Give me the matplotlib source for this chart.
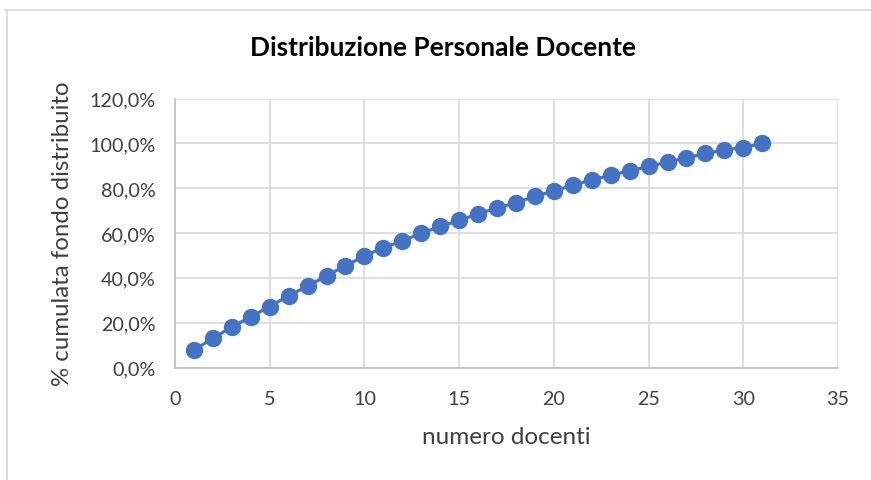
import matplotlib.pyplot as plt
from matplotlib.ticker import FuncFormatter
from matplotlib.lines import Line2D

# numero docenti (x) and cumulative % of fund distributed (y)
docenti = list(range(1, 32))
cumulata = [7.7, 13.1, 18.0, 22.6, 27.2, 32.0, 36.3, 40.9, 45.4, 49.7,
            53.5, 56.4, 59.9, 62.9, 65.6, 68.6, 71.1, 73.6, 76.3, 78.8,
            81.3, 83.7, 85.8, 87.7, 89.7, 91.6, 93.5, 95.5, 97.0, 98.1, 100.0]

TITLE = "Distribuzione Personale Docente"
XLABEL = "numero docenti"
YLABEL = "% cumulata fondo distribuito"
BLUE = "#4472C4"
GRID = "#D9D9D9"
TEXT = "#404040"

plt.rcParams['font.family'] = ['Lato', 'DejaVu Sans']

fig = plt.figure(figsize=(8.71, 4.81), dpi=100)
W, H = 871, 481
ax = fig.add_axes([175 / W, 1 - 368.5 / H, (838 - 175) / W, (368.5 - 99.5) / H])

ax.plot(docenti, cumulata, color=BLUE, lw=2.3, marker='o', ms=11.5,
        markeredgecolor=BLUE, zorder=3, clip_on=False)

ax.set_xlim(0, 35)
ax.set_ylim(0, 120)
ax.set_xticks(range(0, 36, 5))
ax.set_yticks(range(0, 121, 20))
ax.yaxis.set_major_formatter(FuncFormatter(lambda v, p: f"{v:.1f}%".replace('.', ',')))

ax.grid(True, color=GRID, lw=1.2)
ax.set_axisbelow(True)
for s in ['top', 'right']:
    ax.spines[s].set_visible(False)
for s in ['left', 'bottom']:
    ax.spines[s].set_color('#BFBFBF')
    ax.spines[s].set_linewidth(1.2)
ax.tick_params(length=0, labelsize=14.2, colors=TEXT)
ax.tick_params(axis='x', pad=16)
ax.tick_params(axis='y', pad=14)

ax.set_xlabel(XLABEL, fontsize=17.5, color=TEXT, labelpad=14)
ax.set_ylabel(YLABEL, fontsize=17.3, color=TEXT, labelpad=12)
fig.text(443 / W, 1 - 48 / H, TITLE, ha='center', va='center',
         fontsize=19, fontweight='bold', color='black')

# chart border (only top and left edges visible in the crop)
fig.add_artist(Line2D([5 / W, 1], [1 - 10.5 / H, 1 - 10.5 / H],
                      transform=fig.transFigure, color='#D9D9D9', lw=1.2))
fig.add_artist(Line2D([7 / W, 7 / W], [0, 1 - 10.5 / H],
                      transform=fig.transFigure, color='#D9D9D9', lw=1.2))

fig.savefig("out.png", dpi=100)
